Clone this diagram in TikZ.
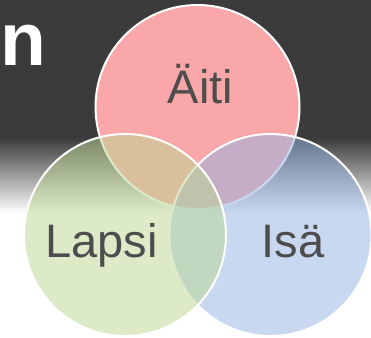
\documentclass[tikz,border=0pt]{standalone}
\usepackage{fontspec}
\setmainfont{Liberation Sans}
\definecolor{bgdark}{HTML}{3B3B3B}
\definecolor{aitipink}{HTML}{F9A7A9}
\definecolor{lapsigreen}{HTML}{BDD791}
\definecolor{isablue}{HTML}{93B3E3}
\definecolor{labelgray}{HTML}{4D4D4D}
\begin{document}
\begin{tikzpicture}[x=1pt,y=-1pt]
	    \tikzset{ring/.style={draw=white, line width=2pt},
	             lbl/.style={text=labelgray, inner sep=0pt, anchor=base, font=\fontsize{47}{50}\selectfont}}
	    \useasboundingbox (0,0) rectangle (371,337);
	    % background
	    \fill[white] (0,0) rectangle (371,337);
	    \fill[bgdark] (0,0) rectangle (371,139);
	    \shade[top color=bgdark, bottom color=white] (0,138) rectangle (371,213);
	    \node[anchor=base east, inner sep=0pt, text=white, font=\bfseries\fontsize{75}{80}\selectfont] (title) at (47,65) {n};
	    \coordinate (M) at (197.5,107);
	    \coordinate (L) at (125,235);
	    \coordinate (I) at (270.5,235);
	    \filldraw[ring, fill=aitipink] (M) circle (102pt);
	    \filldraw[ring, fill=isablue, fill opacity=0.5] (I) circle (101pt);
	    \filldraw[ring, fill=lapsigreen, fill opacity=0.5] (L) circle (101pt);
	    \node[lbl] (aiti) at (200.5,103) {Äiti};
	    \node[lbl] (lapsi) at (101.5,257) {Lapsi};
	    \node[lbl] (isa) at (293,257) {Isä};
	\end{tikzpicture}
\end{document}
